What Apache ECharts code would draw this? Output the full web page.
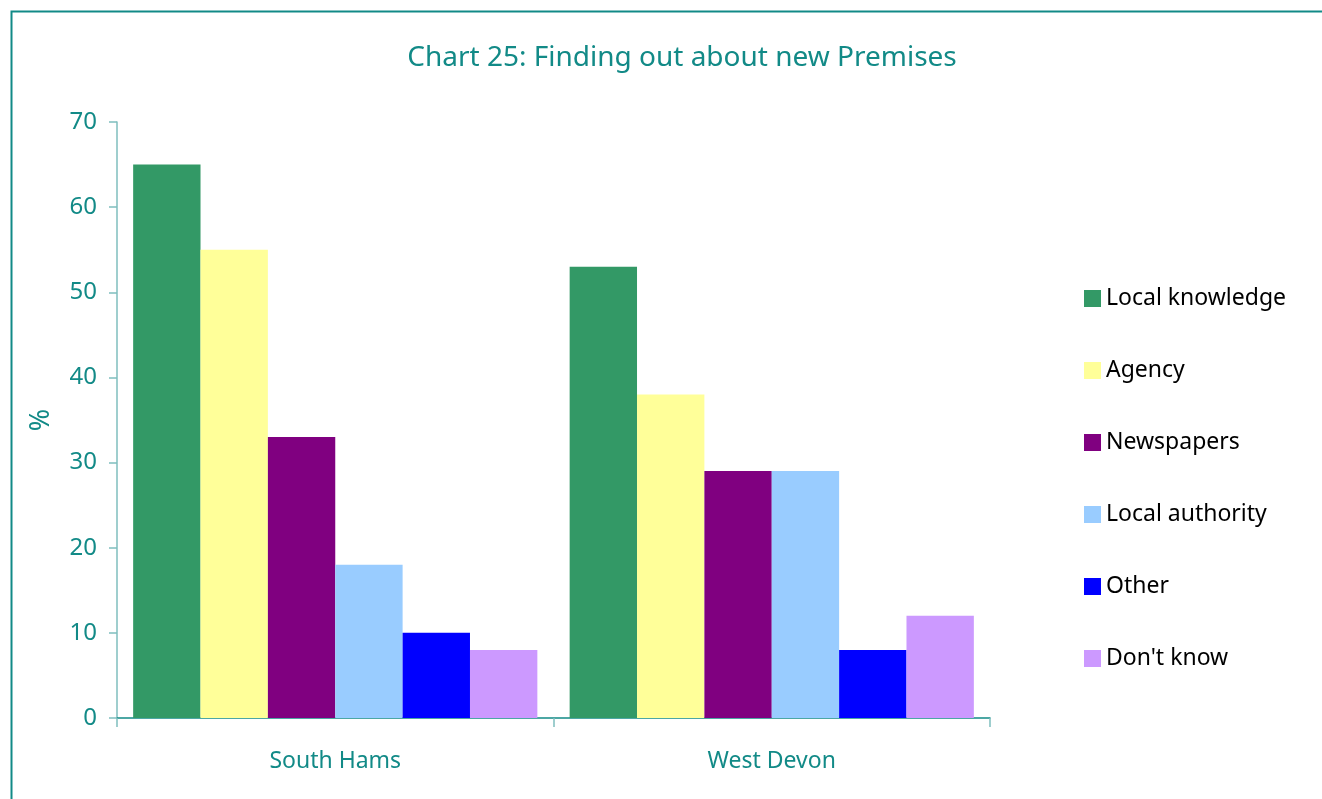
<!DOCTYPE html>
<html>
<head>
<meta charset="utf-8">
<style>
  html, body { margin: 0; padding: 0; background: #fff; }
  #chart { width: 1322px; height: 799px; }
</style>
<script src="https://cdn.jsdelivr.net/npm/echarts@6/dist/echarts.min.js"></script>
</head>
<body>
<div id="chart"></div>
<script>
// Areas surveyed
const categories = ['South Hams', 'West Devon'];

// How businesses found out about new premises (% of respondents)
const localKnowledge = [65, 53];
const agency = [55, 38];
const newspapers = [33, 29];
const localAuthority = [18, 29];
const other = [10, 8];
const dontKnow = [8, 12];

const seriesNames = ['Local knowledge', 'Agency', 'Newspapers', 'Local authority', 'Other', "Don't know"];
const seriesValues = [localKnowledge, agency, newspapers, localAuthority, other, dontKnow];
const seriesColors = ['#339966', '#FFFF99', '#800080', '#99CCFF', '#0000FF', '#CC99FF'];

const teal = '#128A87';
const axisTeal = '#7FBEBE';
const font = 'Noto Sans';

const chart = echarts.init(document.getElementById('chart'));
chart.setOption({
  animation: false,
  backgroundColor: '#fff',
  textStyle: { fontFamily: font },
  title: {
    text: 'Chart 25: Finding out about new Premises',
    left: 677,
    textAlign: 'center',
    top: 39,
    textStyle: { color: teal, fontSize: 28, fontWeight: 'normal', fontFamily: font }
  },
  // frame along the left and top edges
  graphic: [{
    type: 'polyline',
    shape: { points: [[11.5, 799], [11.5, 11.5], [1322, 11.5]] },
    style: { stroke: teal, lineWidth: 2, fill: null },
    silent: true
  }],
  legend: {
    orient: 'vertical',
    left: 1084,
    top: 287,
    padding: 0,
    itemWidth: 17,
    itemHeight: 17,
    itemGap: 49,
    icon: 'rect',
    textStyle: { color: '#000', fontSize: 23, fontFamily: font },
    data: seriesNames
  },
  grid: { left: 117, top: 122, width: 873, height: 596 },
  xAxis: {
    type: 'category',
    data: categories,
    axisLine: { lineStyle: { color: teal, width: 1.5 } },
    axisTick: { show: true, length: 9, inside: false, lineStyle: { color: axisTeal, width: 1.5 } },
    axisLabel: { color: teal, fontSize: 23, margin: 32, fontFamily: font }
  },
  yAxis: {
    type: 'value',
    min: 0,
    max: 70,
    interval: 10,
    name: '%',
    nameLocation: 'middle',
    nameGap: 62,
    nameRotate: 90,
    nameTextStyle: { color: teal, fontSize: 27, fontFamily: font },
    axisLine: { show: true, lineStyle: { color: axisTeal, width: 1.5 } },
    axisTick: { show: true, length: 8, lineStyle: { color: axisTeal, width: 1.5 } },
    axisLabel: { color: teal, fontSize: 24, margin: 20, fontFamily: font },
    splitLine: { show: false }
  },
  series: seriesNames.map((name, i) => ({
    name: name,
    type: 'bar',
    data: seriesValues[i],
    barGap: '0%',
    barCategoryGap: '7.4%',
    itemStyle: { color: seriesColors[i] }
  }))
});
</script>
</body>
</html>
